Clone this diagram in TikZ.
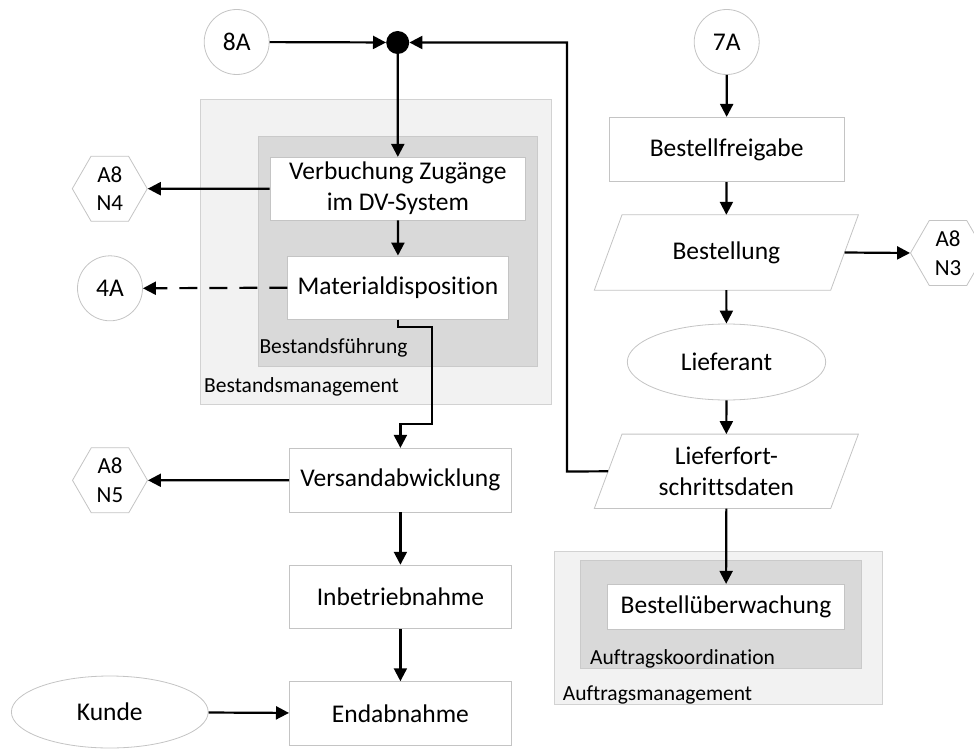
\documentclass[tikz,border=0pt]{standalone}
\usepackage{fontspec}
\setmainfont{Carlito}[RawFeature={-liga}]
\usetikzlibrary{arrows.meta,shapes.geometric}

\definecolor{edge}{HTML}{C4C4C4}
\definecolor{outerfill}{HTML}{F2F2F2}
\definecolor{outeredge}{HTML}{D2D2D2}
\definecolor{innerfill}{HTML}{D9D9D9}
\definecolor{inneredge}{HTML}{CACACA}

\tikzset{
  every node/.style={font=\fontsize{25.5}{31}\selectfont, inner sep=0pt, align=center},
  stepbox/.style={rectangle, draw=edge, line width=0.8pt, fill=white},
  datashape/.style={rectangle},
  connector/.style={circle, draw=edge, line width=0.8pt, fill=white, minimum size=65pt},
  offpage/.style={regular polygon, regular polygon sides=6, draw=edge, line width=0.8pt,
    fill=white, minimum size=75pt, font=\fontsize{23}{28.5}\selectfont},
  party/.style={ellipse, draw=edge, line width=0.8pt, fill=white},
  outerarea/.style={rectangle, draw=outeredge, line width=0.8pt, fill=outerfill},
  innerarea/.style={rectangle, draw=inneredge, line width=0.8pt, fill=innerfill},
  arealabel/.style={anchor=base west, font=\fontsize{21.5}{26}\selectfont},
  flow/.style={draw=black, line width=2.2pt, -{Triangle[length=13pt,width=13pt]}},
  dashflow/.style={flow, dash pattern=on 18pt off 12pt},
  junction/.style={circle, fill=black, minimum size=23pt},
}

\begin{document}
\begin{tikzpicture}[x=1pt, y=-1pt]
\useasboundingbox (0,0) rectangle (974,749);

% organisational areas
\node[outerarea, minimum width=350.3pt, minimum height=304.7pt] (bm) at (375.85,251.65) {};
\node[innerarea, minimum width=279.4pt, minimum height=229.3pt] (bf) at (398,251.35) {};
\node[arealabel] (bflabel) at (259.3,353.3) {Bestandsführung};
\node[arealabel] (bmlabel) at (204,392.7) {Bestandsmanagement};

\node[outerarea, minimum width=328.3pt, minimum height=152.6pt] (am) at (718.15,628) {};
\node[innerarea, minimum width=280.3pt, minimum height=107.6pt] (ak) at (720.85,614.5) {};
\node[arealabel] (aklabel) at (590,664) {Auftragskoordination};
\node[arealabel] (amlabel) at (562.7,700) {Auftragsmanagement};

% left column
\node[connector] (c8a) at (236.7,42) {8A};
\node[junction] (dot) at (397.7,42.5) {};
\node[stepbox, minimum width=255.7pt, minimum height=62.7pt] (vz) at (397.85,188.65) {Verbuchung Zugänge\\im DV-System};
\node[stepbox, minimum width=220.6pt, minimum height=63.3pt] (md) at (398,287.65) {Materialdisposition};
\node[offpage] (n4) at (109.8,188.7) {A8\\N4};
\node[connector] (c4a) at (110,288.3) {4A};
\node[stepbox, minimum width=222pt, minimum height=63.7pt] (va) at (400.4,480.15) {Versandabwicklung};
\node[offpage] (n5) at (110,480.3) {A8\\N5};
\node[stepbox, minimum width=222pt, minimum height=63.7pt] (ib) at (400.4,597) {Inbetriebnahme};
\node[stepbox, minimum width=222pt, minimum height=63.7pt] (ea) at (400.4,713.5) {Endabnahme};
\node[party, minimum width=196.8pt, minimum height=72pt] (kunde) at (109.8,712) {Kunde};

% right column
\node[connector] (c7a) at (726.7,42) {7A};
\node[stepbox, minimum width=235.3pt, minimum height=64.4pt] (bfg) at (726.65,149.5) {Bestellfreigabe};
\node[datashape, minimum width=236pt, minimum height=75pt] (bst) at (726.35,252.5) {};
\draw[draw=edge, line width=0.8pt, fill=white]
  ([xshift=-13.85pt]bst.south west) -- ([xshift=13.85pt]bst.north west) --
  ([xshift=13.85pt]bst.north east) -- ([xshift=-13.85pt]bst.south east) -- cycle;
\node at (bst) {Bestellung};
\node[offpage] (n3) at (948,253) {A8\\N3};
\node[party, minimum width=198.4pt, minimum height=76pt] (lief) at (726.5,362) {Lieferant};
\node[datashape, minimum width=236pt, minimum height=74pt] (lfd) at (726.35,471.3) {};
\draw[draw=edge, line width=0.8pt, fill=white]
  ([xshift=-13.85pt]lfd.south west) -- ([xshift=13.85pt]lfd.north west) --
  ([xshift=13.85pt]lfd.north east) -- ([xshift=-13.85pt]lfd.south east) -- cycle;
\node at (lfd) {Lieferfort-\\schrittsdaten};
\node[stepbox, minimum width=236.6pt, minimum height=44.7pt] (bue) at (726,606.65) {Bestellüberwachung};

% bends of the routed connectors
\coordinate (ret) at (567,471.5);
\coordinate (k1) at (432.3,327);
\coordinate (k2) at (432.3,424);

% connectors
\draw[flow] (c8a) -- (dot);
\draw[flow] (lfd.west) -- (ret) |- (dot.east);
\draw[flow] (dot) -- (vz);
\draw[flow] (vz) -- (md);
\draw[flow] (vz.west) -- (n4.east);
\draw[dashflow] (md.west) -- (c4a.east);
\draw[flow] (md.south) |- (k1) -- (k2) -| (va.north);
\draw[flow] (va.west) -- (n5.east);
\draw[flow] (va) -- (ib);
\draw[flow] (ib) -- (ea);
\draw[flow] (kunde) -- (ea);

\draw[flow] (c7a) -- (bfg);
\draw[flow] (bfg) -- (bst.north);
\draw[flow] (bst.east) -- (n3.west);
\draw[flow] (bst.south) -- (lief);
\draw[flow] (lief) -- (lfd.north);
\draw[flow] (lfd.south) -- (bue);
\end{tikzpicture}
\end{document}
